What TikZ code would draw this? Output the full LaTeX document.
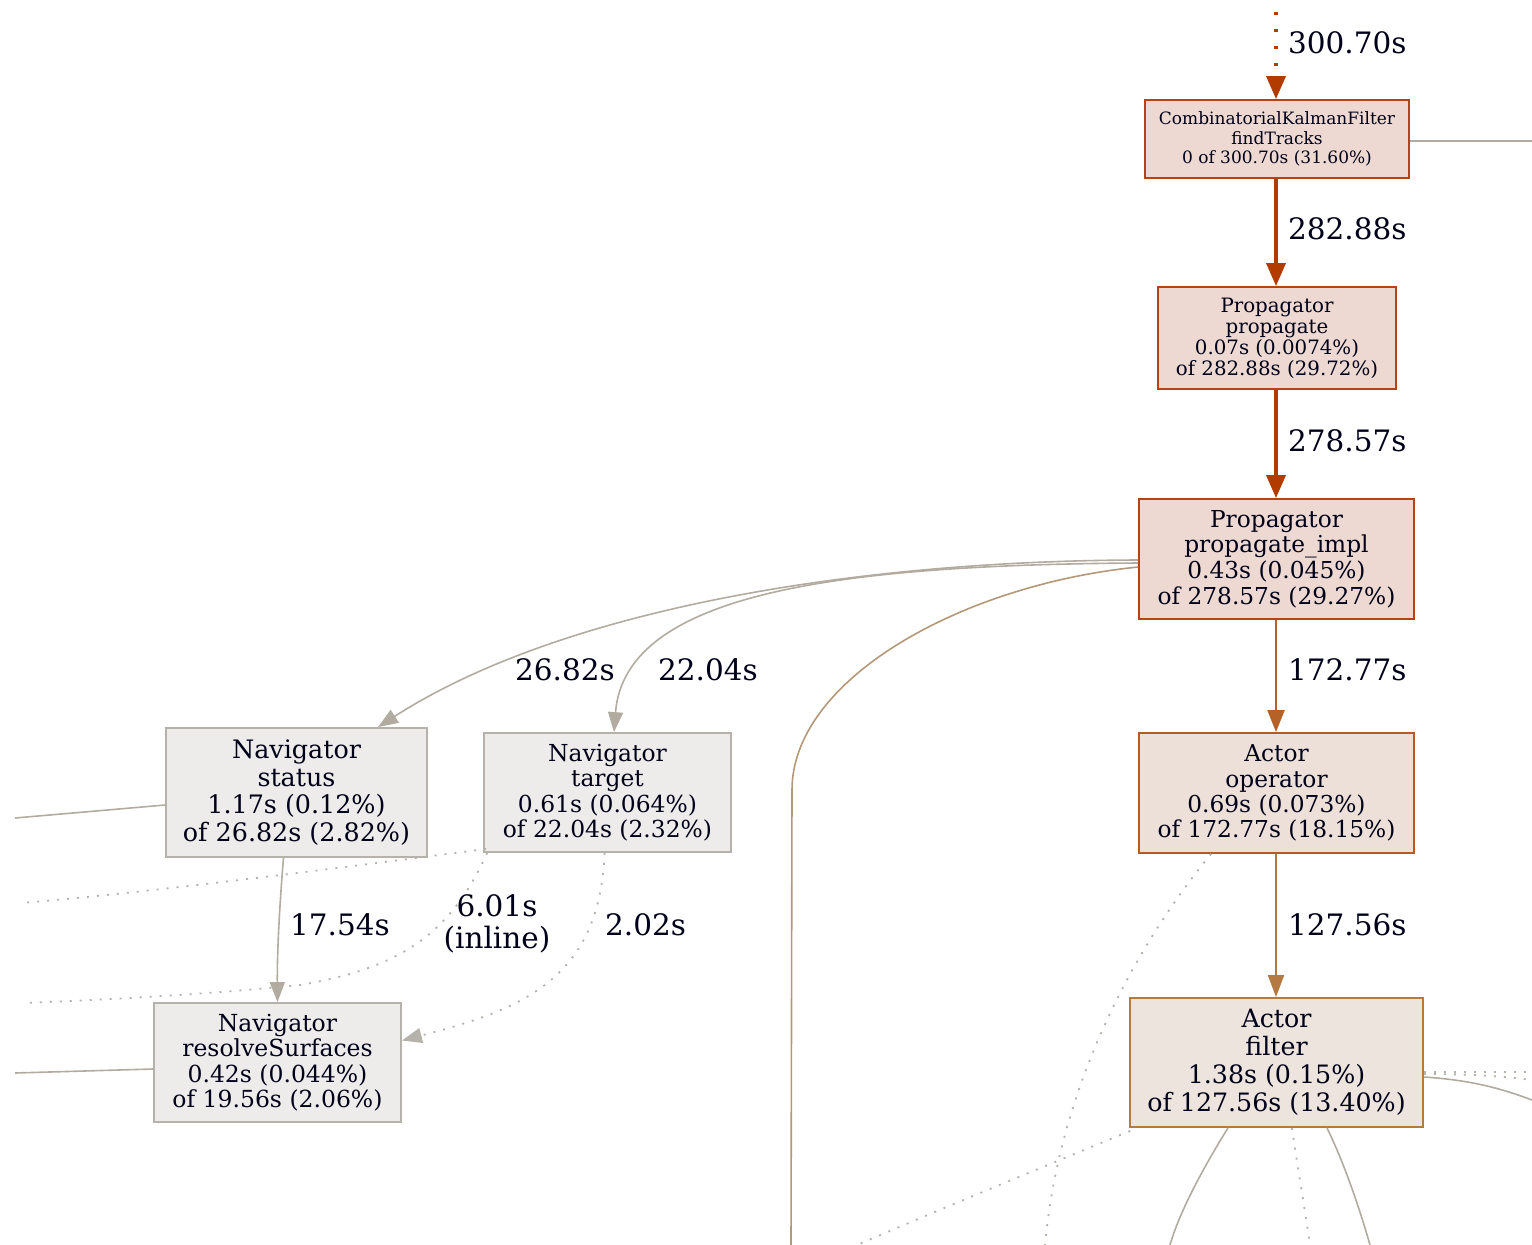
\documentclass[tikz,border=0pt]{standalone}
\usepackage{fontspec}
\setmainfont{DejaVu Serif}
\usepackage{xcolor}
\usetikzlibrary{arrows.meta,calc}

\definecolor{hotline}{RGB}{178,60,0}
\definecolor{hotfill}{RGB}{237,217,210}
\definecolor{hotdraw}{RGB}{182,66,22}
\definecolor{warmline}{RGB}{180,98,40}
\definecolor{warmfill}{RGB}{237,224,216}
\definecolor{warmdraw}{RGB}{182,92,34}
\definecolor{tanline}{RGB}{180,122,66}
\definecolor{tanfill}{RGB}{237,228,221}
\definecolor{tandraw}{RGB}{180,122,64}
\definecolor{greyline}{RGB}{178,172,160}
\definecolor{greyfill}{RGB}{237,236,234}
\definecolor{greydraw}{RGB}{180,178,170}
\definecolor{brownline}{RGB}{180,152,120}

\tikzset{
  fnbox/.style={draw, rectangle, align=center, inner sep=0pt, line width=1.8pt, text=black!90!blue},
  hotbox/.style={fnbox, fill=hotfill, draw=hotdraw},
  warmbox/.style={fnbox, fill=warmfill, draw=warmdraw},
  tanbox/.style={fnbox, fill=tanfill, draw=tandraw},
  greybox/.style={fnbox, fill=greyfill, draw=greydraw},
  lbl/.style={anchor=west, inner sep=0pt, font=\fontsize{29.5}{32}\selectfont, text=black!90!blue},
  hotedge/.style={draw=hotline, line width=3.5pt, -{Triangle[length=23pt,width=19pt]}},
  warmedge/.style={draw=warmline, line width=2.2pt, -{Triangle[length=22pt,width=17pt]}},
  tanedge/.style={draw=tanline, line width=2pt, -{Triangle[length=22pt,width=16pt]}},
  greyedge/.style={draw=greyline, line width=1.6pt},
  greyarrow/.style={greyedge, -{Triangle[length=20pt,width=15pt]}},
  greydots/.style={draw=greydraw, line width=1.8pt, dash pattern=on 2pt off 8pt},
}

\begin{document}
\begin{tikzpicture}[x=1pt, y=-1pt]
    \useasboundingbox (0,0) rectangle (1532,1245);

    % call graph boxes
    \node[hotbox, minimum width=264pt, minimum height=78pt, font=\fontsize{17}{19.5}\selectfont] (ckf) at (1277,139) {CombinatorialKalmanFilter\\findTracks\\0 of 300.70s (31.60\%)};
    \node[hotbox, minimum width=238pt, minimum height=102pt, font=\fontsize{19.8}{21}\selectfont] (prop) at (1277,338) {Propagator\\propagate\\0.07s (0.0074\%)\\of 282.88s (29.72\%)};
    \node[hotbox, minimum width=275pt, minimum height=120pt, font=\fontsize{23.3}{25.7}\selectfont] (impl) at (1276.5,559) {Propagator\\propagate\_impl\\0.43s (0.045\%)\\of 278.57s (29.27\%)};
    \node[warmbox, minimum width=275pt, minimum height=120pt, font=\fontsize{23.3}{25.3}\selectfont] (oper) at (1276.5,793) {Actor\\operator\\0.69s (0.073\%)\\of 172.77s (18.15\%)};
    \node[tanbox, minimum width=293pt, minimum height=129pt, font=\fontsize{25.3}{28}\selectfont] (filt) at (1276.5,1062.5) {Actor\\filter\\1.38s (0.15\%)\\of 127.56s (13.40\%)};
    \node[greybox, minimum width=261pt, minimum height=129pt, font=\fontsize{25.4}{27.7}\selectfont] (nstat) at (296.5,792.5) {Navigator\\status\\1.17s (0.12\%)\\of 26.82s (2.82\%)};
    \node[greybox, minimum width=247pt, minimum height=119pt, font=\fontsize{23.4}{25.5}\selectfont] (ntarg) at (607.5,792.5) {Navigator\\target\\0.61s (0.064\%)\\of 22.04s (2.32\%)};
    \node[greybox, minimum width=247pt, minimum height=119pt, font=\fontsize{23.5}{25.5}\selectfont] (nres) at (277.5,1062.5) {Navigator\\resolveSurfaces\\0.42s (0.044\%)\\of 19.56s (2.06\%)};

    % loose ends leaving the crop
    \coordinate (intop) at (1276,12);
    \coordinate (ckfout) at (1532,141);
    \coordinate (implout) at (791,1245);
    \coordinate (statout) at (15,818);
    \coordinate (resout) at (15,1073);
    \coordinate (targoutA) at (20,903);
    \coordinate (targoutB) at (22,1003);
    \coordinate (operout) at (1045,1245);
    \coordinate (filtoutA) at (857,1245);
    \coordinate (filtoutB) at (1170,1245);
    \coordinate (filtoutC) at (1310,1245);
    \coordinate (filtoutD) at (1370,1245);
    \coordinate (filtoutE) at (1532,1072);
    \coordinate (filtoutF) at (1532,1080);
    \coordinate (filtoutG) at (1532,1100);

    % hot path
    \draw[hotedge, dash pattern=on 3pt off 14pt] (intop) -- (ckf.north -| intop);
    \draw[hotedge] (ckf.south -| intop) -- (prop.north -| intop);
    \draw[hotedge] (prop.south -| intop) -- (impl.north -| intop);
    \draw[warmedge] (impl.south -| intop) -- (oper.north -| intop);
    \draw[tanedge] (oper.south -| intop) -- (filt.north -| intop);
    \draw[greyedge] (ckf.east |- ckfout) -- (ckfout);

    % out of propagate_impl
    \draw[greyarrow] ($(impl.west)+(0,1)$) .. controls (850,561) and (560,610) .. ($(nstat.north)+(81.5,0)$);
    \draw[greyarrow] ($(impl.west)+(0,4)$) .. controls (850,565) and (625,590) .. ($(ntarg.north)+(6.5,0)$);
    \draw[draw=brownline, line width=1.6pt] ($(impl.west)+(0,8)$) .. controls (960,585) and (792,680) .. (792,790) -- (implout);

    % navigator calls
    \draw[greyarrow] ($(nstat.south)+(-13,0)$) .. controls (280,900) and (277,950) .. (nres.north);
    \draw[greyedge] (nstat.west |- 0,805) -- (statout);
    \draw[greyedge] (nres.west |- 0,1069) -- (resout);
    \draw[greydots] ($(ntarg.south west)+(3,-4)$) .. controls (400,860) and (150,893) .. (targoutA);
    \draw[greydots] ($(ntarg.south west)+(4,0)$) .. controls (450,935) and (400,968) .. (300,985) .. controls (200,995) and (100,1000) .. (targoutB);
    \draw[greydots, -{Triangle[length=20pt,width=15pt]}] ($(ntarg.south)+(-3,0)$) .. controls (600,980) and (520,1010) .. ($(nres.east)+(0,-22)$);

    % below the actors
    \draw[greydots] ($(oper.south west)+(73,0)$) .. controls (1140,940) and (1060,1080) .. (operout);
    \draw[greydots] ($(filt.south west)+(1,3)$) .. controls (1060,1160) and (950,1205) .. (filtoutA);
    \draw[greyedge] ($(filt.south)+(-48.5,0)$) .. controls (1205,1165) and (1180,1210) .. (filtoutB);
    \draw[greydots] ($(filt.south)+(15.5,0)$) .. controls (1298,1170) and (1305,1210) .. (filtoutC);
    \draw[greyedge] ($(filt.south)+(50.5,0)$) .. controls (1345,1165) and (1360,1210) .. (filtoutD);
    \draw[greydots] ($(filt.east)+(0,9.5)$) -- (filtoutE);
    \draw[greydots] ($(filt.east)+(0,11.5)$) .. controls (1470,1074) and (1500,1076) .. (filtoutF);
    \draw[greyedge] ($(filt.east)+(0,14.5)$) .. controls (1470,1080) and (1500,1088) .. (filtoutG);

    % edge weights
    \node[lbl] (w300) at (1288,43) {300.70s};
    \node[lbl] (w282) at (1288,229) {282.88s};
    \node[lbl] (w278) at (1288,441) {278.57s};
    \node[lbl] (w172) at (1288,670) {172.77s};
    \node[lbl] (w127) at (1288,925) {127.56s};
    \node[lbl] (w26) at (515,670) {26.82s};
    \node[lbl] (w22) at (658,670) {22.04s};
    \node[lbl] (w17) at (290,925) {17.54s};
    \node[lbl, anchor=center, align=center] (w6) at (497,924) {6.01s\\(inline)};
    \node[lbl] (w2) at (605,925) {2.02s};
\end{tikzpicture}
\end{document}
